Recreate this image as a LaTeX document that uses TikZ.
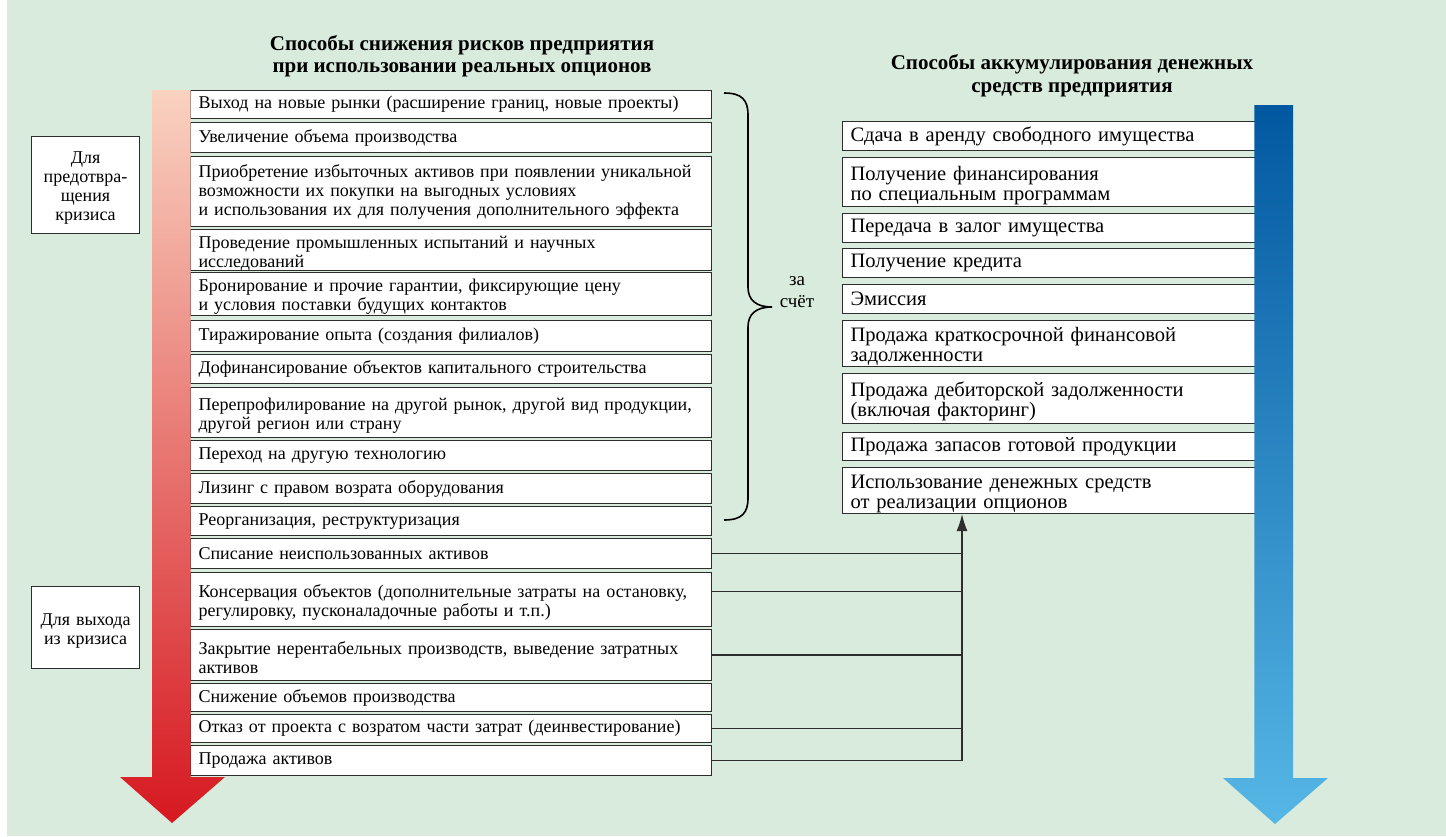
\documentclass[tikz,border=0pt]{standalone}
\usepackage{fontspec}
\setmainfont{Liberation Serif}
\usetikzlibrary{arrows.meta,calc}
\definecolor{bg}{RGB}{216,235,221}
\definecolor{boxline}{RGB}{45,45,45}
\definecolor{redtop}{RGB}{249,210,192}
\definecolor{redbot}{RGB}{214,24,32}
\definecolor{bluetop}{RGB}{2,88,160}
\definecolor{bluebot}{RGB}{86,183,230}
\newcommand{\lowstrut}{\rule{0pt}{18.5pt}}
\newcommand{\rlowstrut}{\rule{0pt}{20.5pt}}
\tikzset{
  boxbase/.style={draw=boxline, fill=white, line width=1.1pt, anchor=north west,
    inner xsep=8pt, inner ysep=0pt, align=left},
  lbox/.style={boxbase, text width=505pt, minimum width=521pt,
    font=\fontsize{18}{19}\selectfont},
  rbox/.style={boxbase, text width=397pt, minimum width=413pt,
    font=\fontsize{20.5}{20}\selectfont},
  sidebox/.style={draw=boxline, fill=white, line width=1.1pt, anchor=north west,
    inner sep=0pt, minimum width=108pt, text width=104pt, align=center,
    font=\fontsize{18}{19}\selectfont},
  titletext/.style={align=center, font=\bfseries\fontsize{21}{22.5}\selectfont},
  link/.style={draw=boxline, line width=1.3pt},
  bracestyle/.style={draw=black, line width=1.6pt}
}
\begin{document}
\begin{tikzpicture}[x=1pt,y=-1pt]
\useasboundingbox (0,0) rectangle (1446,836);
\fill[bg] (7,0) rectangle (1446,836);

% titles
\node[titletext] (t1) at (462,56) {Способы снижения рисков предприятия\\при использовании реальных опционов};
\node[titletext] (t2) at (1072,75.5) {Способы аккумулирования денежных\\средств предприятия};

% side boxes
\node[sidebox, minimum height=97pt] (s1) at (31,136) {\lowstrut Для\\предотвра-\\щения\\кризиса};
\node[sidebox, minimum height=82pt] (s2) at (31,586) {\lowstrut Для выхода\\из кризиса};

% left boxes
\node[lbox, minimum height=28pt] (b1) at (190,90) {Выход на новые рынки (расширение границ, новые проекты)};
\node[lbox, minimum height=30pt] (b2) at (190,122) {Увеличение объема производства};
\node[lbox, minimum height=70pt] (b3) at (190,156) {Приобретение избыточных активов при появлении уникальной\\возможности их покупки на выгодных условиях\\и использования их для получения дополнительного эффекта};
\node[lbox, minimum height=39pt] (b4) at (190,229) {\lowstrut Проведение промышленных испытаний и научных\\исследований};
\node[lbox, minimum height=43pt] (b5) at (190,272) {\lowstrut Бронирование и прочие гарантии, фиксирующие цену\\и условия поставки будущих контактов};
\node[lbox, minimum height=31pt] (b6) at (190,320) {Тиражирование опыта (создания филиалов)};
\node[lbox, minimum height=29pt] (b7) at (190,354) {Дофинансирование объектов капитального строительства};
\node[lbox, minimum height=50pt] (b8) at (190,387) {\lowstrut Перепрофилирование на другой рынок, другой вид продукции,\\другой регион или страну};
\node[lbox, minimum height=30pt] (b9) at (190,440) {Переход на другую технологию};
\node[lbox, minimum height=30pt] (b10) at (190,473) {Лизинг с правом возрата оборудования};
\node[lbox, minimum height=29pt] (b11) at (190,506) {Реорганизация, реструктуризация};
\node[lbox, minimum height=30pt] (b12) at (190,538) {Списание неиспользованных активов};
\node[lbox, minimum height=54pt] (b13) at (190,572) {\lowstrut Консервация объектов (дополнительные затраты на остановку,\\регулировку, пусконаладочные работы и т.п.)};
\node[lbox, minimum height=51pt] (b14) at (190,629) {\lowstrut Закрытие нерентабельных производств, выведение затратных\\активов};
\node[lbox, minimum height=28pt] (b15) at (190,683) {Снижение объемов производства};
\node[lbox, minimum height=28pt] (b16) at (190,714) {Отказ от проекта с возратом части затрат (деинвестирование)};
\node[lbox, minimum height=30pt] (b17) at (190,745) {Продажа активов};

% right boxes
\node[rbox, minimum height=29pt] (r1) at (842,121) {Сдача в аренду свободного имущества};
\node[rbox, minimum height=49pt] (r2) at (842,157) {\rlowstrut Получение финансирования\\по специальным программам};
\node[rbox, minimum height=29pt] (r3) at (842,213) {Передача в залог имущества};
\node[rbox, minimum height=29pt] (r4) at (842,248) {Получение кредита};
\node[rbox, minimum height=29pt] (r5) at (842,284) {Эмиссия};
\node[rbox, minimum height=46pt] (r6) at (842,320) {\rlowstrut Продажа краткосрочной финансовой\\задолженности};
\node[rbox, minimum height=50pt] (r7) at (842,373) {\rlowstrut Продажа дебиторской задолженности\\(включая факторинг)};
\node[rbox, minimum height=28pt] (r8) at (842,432) {Продажа запасов готовой продукции};
\node[rbox, minimum height=46pt] (r9) at (842,467) {\rlowstrut Использование денежных средств\\от реализации опционов};

% arrows (gradient)
\shade[top color=redtop, bottom color=redbot]
  (152,90) -- (190.6,90) -- (190.6,777) -- (225,777) -- (172,823) -- (120,777) -- (152,777) -- cycle;
\shade[top color=bluetop, bottom color=bluebot]
  (1254.4,105) -- (1293,105) -- (1293,778) -- (1328,778) -- (1275,824) -- (1223,778) -- (1254.4,778) -- cycle;

% brace
\draw[bracestyle] (724,93) .. controls (742,93) and (748,100) .. (748,115) -- (748,287)
  .. controls (748,300) and (756,307) .. (772,307)
  .. controls (756,307) and (748,314) .. (748,327) -- (748,498)
  .. controls (748,513) and (742,520) .. (724,520);
\node[font=\fontsize{19}{22}\selectfont, align=center] (zs) at (797,292.5) {за\\счёт};

% connectors
\coordinate (jx) at (962,760);
\draw[link] (b12.east) -- (b12.east -| jx);
\draw[link] ([yshift=8pt]b13.east) -- ([yshift=8pt]b13.east -| jx);
\draw[link] (b14.east) -- (b14.east -| jx);
\draw[link] (b16.east) -- (b16.east -| jx);
\draw[link, -{Latex[length=17pt,width=11pt]}] (b17.east) -| (r9.south -| jx);
\end{tikzpicture}
\end{document}
